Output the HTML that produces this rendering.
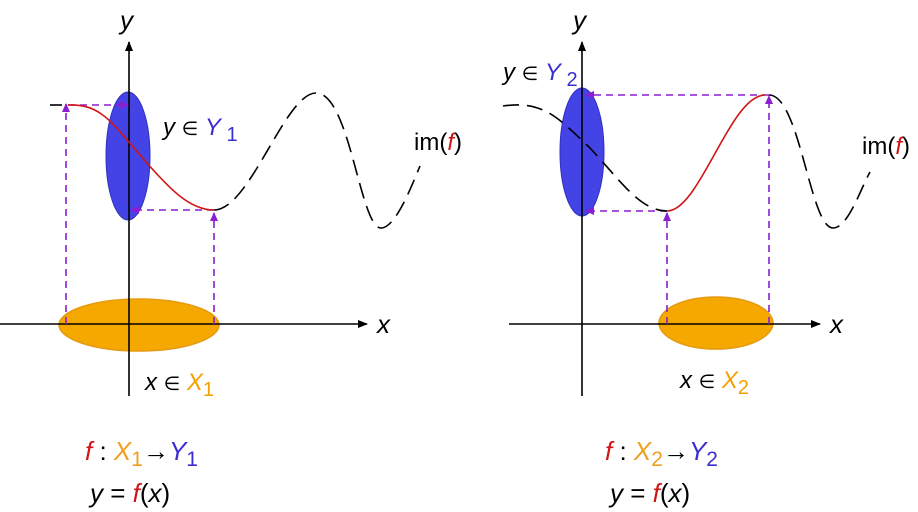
<!DOCTYPE html>
<html><head><meta charset="utf-8"><style>
html,body{margin:0;padding:0;background:#fff;}
svg{display:block;}
text{font-family:"Liberation Sans","DejaVu Sans",sans-serif;font-size:24px;}
.i{font-style:italic;}
.e{font-size:19px;}
.b{font-size:26px;}
</style></head><body>
<svg width="918" height="512" viewBox="0 0 918 512" xmlns="http://www.w3.org/2000/svg">
<defs>
<marker id="ak" markerWidth="10" markerHeight="8" refX="9" refY="4" orient="auto" markerUnits="userSpaceOnUse"><path d="M0,0 L10,4 L0,8 Z" fill="#000"/></marker>
<marker id="ap" markerWidth="9" markerHeight="8" refX="8" refY="4" orient="auto" markerUnits="userSpaceOnUse"><path d="M0,0 L9,4 L0,8 Z" fill="#8a1ed0"/></marker>
</defs>
<!-- LEFT -->
<ellipse cx="139" cy="325" rx="80" ry="26" fill="#f5a800" stroke="#e59a10" stroke-width="1.5"/>
<ellipse cx="128" cy="156" rx="22" ry="64" fill="#4343e6" stroke="#3030c0" stroke-width="1"/>
<line x1="0" y1="324" x2="367" y2="324" stroke="#000" stroke-width="1.6" marker-end="url(#ak)"/>
<line x1="129" y1="396" x2="129" y2="42" stroke="#000" stroke-width="1.6" marker-end="url(#ak)"/>
<g stroke="#8a1ed0" stroke-width="1.6" stroke-dasharray="7,5" fill="none">
<line x1="66" y1="324" x2="66" y2="104" marker-end="url(#ap)"/>
<line x1="68" y1="105" x2="128" y2="105" marker-end="url(#ap)"/>
<line x1="214" y1="210" x2="131" y2="210" marker-end="url(#ap)"/>
<line x1="214" y1="324" x2="214" y2="213" marker-end="url(#ap)"/>
</g>
<path d="M50,105 L62,105" stroke="#000" stroke-width="1.6"/>
<path d="M68,105 C100,104 110,120 140,155 C170,190 190,210 214,210" stroke="#d01515" stroke-width="1.6" fill="none"/>
<path d="M214,210 C250,210 285,93 316,93 C350,93 360,228 381,228 C395,228 410,190 420,166" stroke="#000" stroke-width="1.6" fill="none" stroke-dasharray="16,8"/>
<text x="120" y="29" class="i b">y</text>
<text x="163" y="135"><tspan class="i">y</tspan> <tspan class="e">∈</tspan> <tspan class="i" fill="#3b2ed0">Y</tspan><tspan fill="#3b2ed0" font-size="20" dy="6"> 1</tspan></text>
<text x="414" y="150">im(<tspan class="i" fill="#d01515">f</tspan>)</text>
<text x="377" y="333" class="i b">x</text>
<text x="145" y="390"><tspan class="i">x</tspan> <tspan class="e">∈</tspan> <tspan class="i" fill="#f5a000">X</tspan><tspan fill="#f5a000" font-size="20" dy="6">1</tspan></text>
<text x="85" y="460" class="b"><tspan class="i" fill="#d01515">f</tspan> : <tspan class="i" fill="#f0a020">X</tspan><tspan fill="#f0a020" font-size="21" dy="6">1</tspan><tspan dy="-6">→</tspan><tspan class="i" fill="#3b2ed0">Y</tspan><tspan fill="#3b2ed0" font-size="21" dy="6">1</tspan></text>
<text x="90" y="502" class="b"><tspan class="i">y</tspan> = <tspan class="i" fill="#d01515">f</tspan>(<tspan class="i">x</tspan>)</text>
<!-- RIGHT -->
<ellipse cx="716" cy="323" rx="57" ry="26" fill="#f5a800" stroke="#e59a10" stroke-width="1.5"/>
<ellipse cx="582" cy="152" rx="22" ry="64" fill="#4343e6" stroke="#3030c0" stroke-width="1"/>
<line x1="509" y1="324" x2="820" y2="324" stroke="#000" stroke-width="1.6" marker-end="url(#ak)"/>
<line x1="582" y1="396" x2="582" y2="42" stroke="#000" stroke-width="1.6" marker-end="url(#ak)"/>
<g stroke="#8a1ed0" stroke-width="1.6" stroke-dasharray="7,5" fill="none">
<line x1="769" y1="95" x2="586" y2="95" marker-end="url(#ap)"/>
<line x1="667" y1="211" x2="586" y2="211" marker-end="url(#ap)"/>
<line x1="667" y1="324" x2="667" y2="213" marker-end="url(#ap)"/>
<line x1="769" y1="324" x2="769" y2="96" marker-end="url(#ap)"/>
</g>
<path d="M503,106 C545,100 560,120 590,148 C620,180 640,211 667,211" stroke="#000" stroke-width="1.6" fill="none" stroke-dasharray="16,8"/>
<path d="M667,211 C700,211 730,95 765,95" stroke="#d01515" stroke-width="1.6" fill="none"/>
<path d="M769,95 C800,95 810,228 833,228 C848,228 860,190 870,172" stroke="#000" stroke-width="1.6" fill="none" stroke-dasharray="16,8"/>
<text x="573" y="29" class="i b">y</text>
<text x="503" y="80"><tspan class="i">y</tspan> <tspan class="e">∈</tspan> <tspan class="i" fill="#3b2ed0">Y</tspan><tspan fill="#3b2ed0" font-size="20" dy="6"> 2</tspan></text>
<text x="862" y="154">im(<tspan class="i" fill="#d01515">f</tspan>)</text>
<text x="830" y="333" class="i b">x</text>
<text x="680" y="388"><tspan class="i">x</tspan> <tspan class="e">∈</tspan> <tspan class="i" fill="#f5a000">X</tspan><tspan fill="#f5a000" font-size="20" dy="6">2</tspan></text>
<text x="605" y="460" class="b"><tspan class="i" fill="#d01515">f</tspan> : <tspan class="i" fill="#f0a020">X</tspan><tspan fill="#f0a020" font-size="21" dy="6">2</tspan><tspan dy="-6">→</tspan><tspan class="i" fill="#3b2ed0">Y</tspan><tspan fill="#3b2ed0" font-size="21" dy="6">2</tspan></text>
<text x="610" y="502" class="b"><tspan class="i">y</tspan> = <tspan class="i" fill="#d01515">f</tspan>(<tspan class="i">x</tspan>)</text>
</svg>
</body></html>
